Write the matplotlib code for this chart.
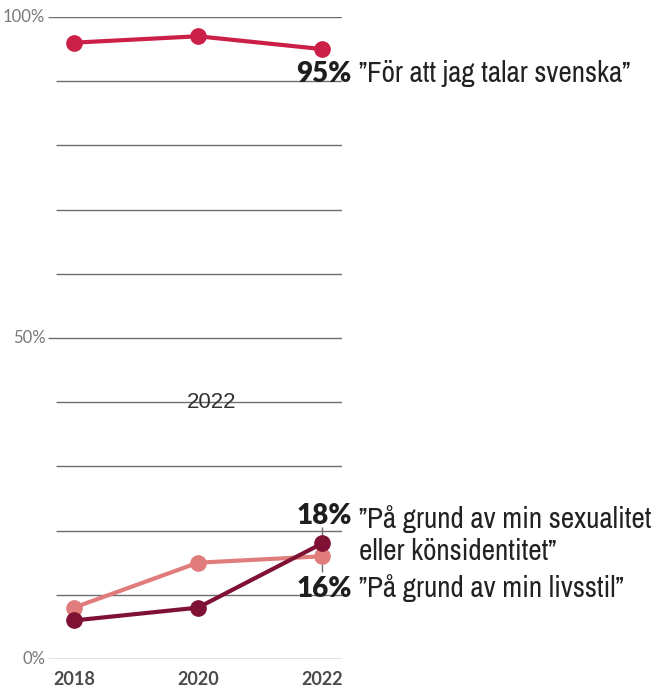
"""
Andel som upplevt diskriminering, per orsak, 2018-2022.
"""

import matplotlib.pyplot as plt
from matplotlib import font_manager

years = [2018, 2020, 2022]
svenska = [96, 97, 95]
sexualitet = [6, 8, 18]
livsstil = [8, 15, 16]

grid_levels = [0, 10, 20, 30, 40, 50, 60, 70, 80, 90, 100]
major_levels = [0, 50, 100]

RED = "#cc1f47"
DARK = "#7f1134"
PINK = "#e07c7c"
GRID = "#6e6e6e"

# look for a narrow face, otherwise Lato
narrow = [f.name for f in font_manager.fontManager.ttflist
          if "Narrow" in f.name or "Condensed" in f.name]
NARROW = sorted(set(narrow))[:1] + ["Lato", "DejaVu Sans"]
HEAVY = ["Lato", "DejaVu Sans"]

fig = plt.figure(figsize=(6.66, 6.89), dpi=100)
ax = fig.add_axes([48 / 666, 30 / 689, (342 - 48) / 666, (659 - 17) / 689])
ax.set_xlim(2017.584, 2022.32)
ax.set_ylim(0, 100)
ax.axis("off")

# gridlines: the labelled ones run a bit further left
for lvl in grid_levels:
    x0 = 2017.584 if lvl in major_levels else 2017.712
    ax.hlines(lvl, x0, 2022.32, color=GRID, lw=1.0, zorder=1)

for lvl in major_levels:
    ax.text(2017.54, lvl, f"{lvl}%", ha="right", va="center",
            fontsize=12, color="#787878", family=["Lato", "DejaVu Sans"])

for y in years:
    ax.text(y, -1.8, str(y), ha="center", va="top", fontsize=13,
            color="#4a4a4a", fontweight="bold", family=["Lato", "DejaVu Sans"])

series = [(svenska, RED), (livsstil, PINK), (sexualitet, DARK)]
for vals, col in series:
    ax.plot(years, vals, color=col, lw=3, marker="o", ms=11,
            clip_on=False, zorder=3)

# connector ticks at 2022 for the two low series
ax.vlines(2022, sexualitet[-1], sexualitet[-1] + 2.5, color=GRID, lw=1, zorder=2)
ax.vlines(2022, livsstil[-1] - 2.5, livsstil[-1], color=GRID, lw=1, zorder=2)

# stray year label in the middle of the chart
ax.text(2020.22, 39.9, "2022", ha="center", va="center", fontsize=16,
        color="#333333", family=["Liberation Sans", "DejaVu Sans"])

ann = [
    (svenska[-1] - 5.1, f"{svenska[-1]}%", "\u201dFör att jag talar svenska\u201d"),
    (sexualitet[-1] + 3.0, f"{sexualitet[-1]}%",
     "\u201dPå grund av min sexualitet\neller könsidentitet\u201d"),
    (livsstil[-1] - 6.3, f"{livsstil[-1]}%", "\u201dPå grund av min livsstil\u201d"),
]
for yv, pct, label in ann:
    ax.text(2022.48, yv, pct, ha="right", va="baseline", fontsize=20,
            fontweight="heavy", color="#1e1e1e", family=HEAVY, zorder=4)
    # baseline alignment follows the last line, so shift multi-line labels
    ylab = yv - 5.6 * label.count("\n")
    ax.text(2022.6, ylab, label, ha="left", va="baseline",
            fontsize=21, color="#222222", family=NARROW, linespacing=1.25,
            zorder=4)

fig.savefig("out.png", dpi=100)
